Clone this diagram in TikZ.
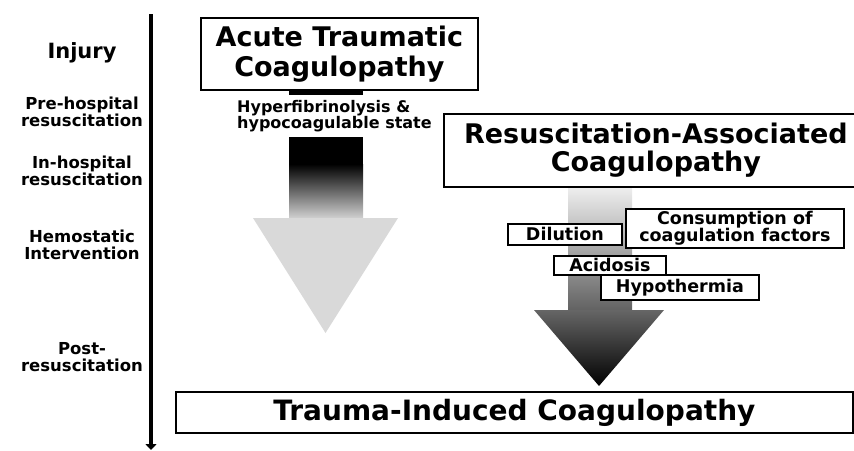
\documentclass[tikz,border=0pt]{standalone}
\usepackage{fontspec}
\setmainfont{DejaVu Sans}
\usetikzlibrary{arrows.meta}
\begin{document}
\begin{tikzpicture}[x=1pt,y=-1pt,
  box/.style={draw=black, line width=1.8pt, fill=white, inner sep=0pt, align=center, anchor=north west},
  lbl/.style={align=center, inner sep=0pt, font=\bfseries\fontsize{16.5}{17}\selectfont},
  small/.style={font=\bfseries\fontsize{17.5}{17}\selectfont}]
\useasboundingbox (0,0) rectangle (854,450);
% timeline
\coordinate (t0) at (151,14);
\coordinate (t1) at (151,450);
\draw[line width=4.5pt, -{Triangle[length=6pt,width=11pt]}] (t0) -- (t1);
% left labels
\node[lbl, font=\bfseries\fontsize{21}{22}\selectfont] (inj) at (82,53) {Injury};
\node[lbl] (pre) at (82,112) {Pre-hospital\\resuscitation};
\node[lbl] (inh) at (82,171) {In-hospital\\resuscitation};
\node[lbl] (hem) at (82,245) {Hemostatic\\Intervention};
\node[lbl] (post) at (82,357) {Post-\\resuscitation};
% left arrow
\fill[black] (289,89) rectangle (363,95);
\fill[black] (289,137) rectangle (363,165);
\shade[top color=black, bottom color=black!17] (289,164) rectangle (363,219);
\fill[black!15] (253,218) -- (398,218) -- (325.5,333) -- cycle;
% ATC box
\node[box, minimum width=277pt, minimum height=72pt, font=\bfseries\fontsize{27}{30}\selectfont] (atc) at (200,17) {Acute Traumatic\\Coagulopathy};
\node[inner sep=0pt, anchor=north west, align=left, font=\bfseries\fontsize{16}{16}\selectfont] (hyp) at (237,100) {Hyperfibrinolysis \&\\hypocoagulable state};
% right arrow
\shade[top color=black!6, bottom color=black!62] (568,186) rectangle (632,311);
\shade[top color=black!60, bottom color=black] (534,310) -- (664,310) -- (599,386) -- cycle;
% RAC box
\node[box, minimum width=424pt, minimum height=73pt, font=\bfseries\fontsize{27}{28}\selectfont] (rac) at (443,113) {Resuscitation-Associated\\Coagulopathy};
% small boxes
\node[box, small, minimum width=114pt, minimum height=21pt] (dil) at (507,223) {Dilution};
\node[box, small, minimum width=218pt, minimum height=39pt] (con) at (625,208) {Consumption of\\coagulation factors};
\node[box, small, minimum width=112pt, minimum height=19pt] (aci) at (553,255) {Acidosis};
\node[box, small, minimum width=158pt, minimum height=25pt] (hpt) at (600,274) {Hypothermia};
% TIC box
\node[box, minimum width=677pt, minimum height=41pt, font=\bfseries\fontsize{28}{30}\selectfont] (tic) at (175,391) {Trauma-Induced Coagulopathy};
\end{tikzpicture}
\end{document}
